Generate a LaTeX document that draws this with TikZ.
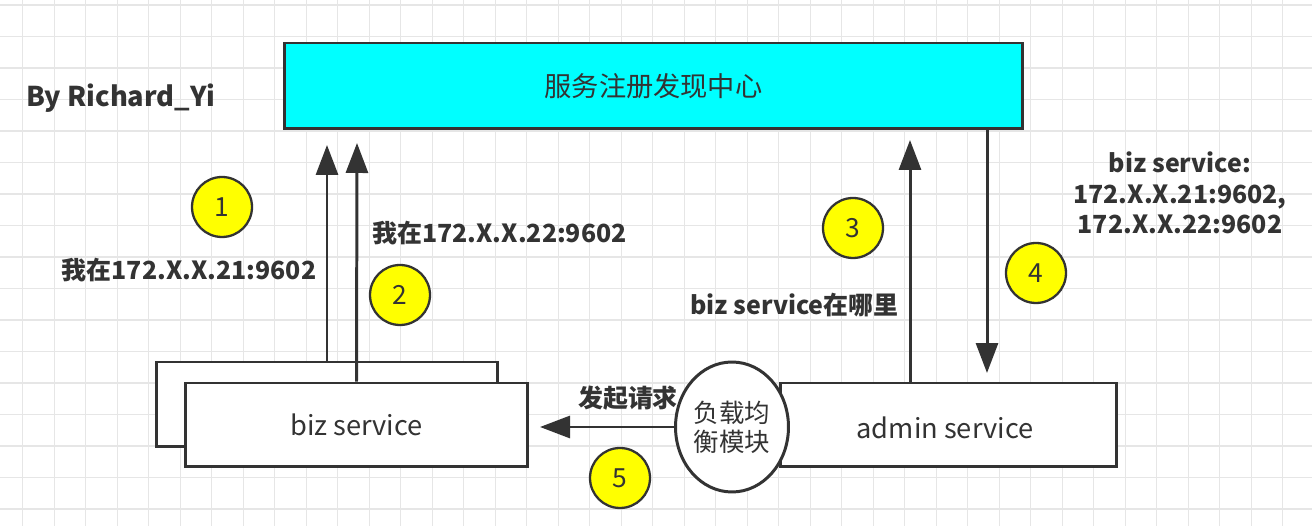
\documentclass[tikz,border=0pt]{standalone}
\usepackage{fontspec}
\setmainfont{Noto Sans CJK SC}
\usetikzlibrary{arrows.meta,shapes.geometric}
\definecolor{ink}{HTML}{333333}
\definecolor{gridgray}{HTML}{E6E6E6}
\definecolor{regcyan}{HTML}{00FFFF}
\definecolor{marker}{HTML}{FFFF00}
\begin{document}
\begin{tikzpicture}[x=0.02cm,y=-0.02cm]
        % Define styles for nodes and edges
        \tikzstyle{box}=[rectangle, draw=ink, line width=1.7pt, fill=white, text=ink, font=\fontsize{15.5}{17}\selectfont]
        \tikzstyle{registry}=[box, fill=regcyan, minimum width=14.78cm, minimum height=1.72cm]
        \tikzstyle{service}=[box, minimum width=6.84cm, minimum height=1.68cm]
        \tikzstyle{step marker}=[circle, draw=ink, line width=1.3pt, fill=marker, text=ink, minimum size=1.2cm, inner sep=0pt, font=\fontsize{15}{17}\selectfont]
        \tikzstyle{note}=[text=ink, font=\fontsize{14.2}{17.3}\selectfont\bfseries, align=center, inner sep=0pt]
        \tikzstyle{arrow}=[draw=ink, line width=1.7pt, -{Triangle[length=0.6cm,width=0.44cm]}]

        % Background grid
        \useasboundingbox (0,0) rectangle (1312,526);
        \fill[white] (0,0) rectangle (1312,526);
        \foreach \i in {0,...,41} \draw[gridgray, line width=0.6pt] ({22.7+31.5*\i},0) -- ({22.7+31.5*\i},526);
        \foreach \j in {0,...,16} \draw[gridgray, line width=0.6pt] (0,{5+31.5*\j}) -- (1312,{5+31.5*\j});

        % Define vertices
        \node[registry] (reg) at (653.5,86) {服务注册发现中心};
        \node[service, minimum height=1.7cm] (bizback) at (327,404.5) {};
        \node[service, minimum width=6.86cm] (biz) at (356.5,425) {biz service};
        \node[service, minimum width=6.74cm] (admin) at (948.5,425) {};
        \node[text=ink, font=\fontsize{15.5}{17}\selectfont] (admintext) at (945,428) {admin service};
        \node[ellipse, draw=ink, line width=1.7pt, fill=white, text=ink, minimum width=2.26cm, minimum height=2.6cm, inner sep=0pt, align=center, font=\fontsize{14.5}{16.5}\selectfont] (lb) at (732,427) {负载均\\衡模块};

        \node[note, anchor=west, font=\fontsize{15.5}{17}\selectfont\bfseries] (author) at (26,98) {By Richard\_Yi};
        \node[note] (say1) at (189,270) {我在172.X.X.21:9602};
        \node[note] (say2) at (499.5,233) {我在172.X.X.22:9602};
        \node[note] (ask) at (794.5,305) {biz service在哪里};
        \node[note] (reply) at (1180,193) {biz service:\\172.X.X.21:9602,\\172.X.X.22:9602};
        \node[note] (call) at (628,398) {发起请求};

        \node[step marker] (s1) at (222,207) {1};
        \node[step marker] (s2) at (400,295) {2};
        \node[step marker] (s3) at (853,228) {3};
        \node[step marker] (s4) at (1036,273) {4};
        \node[step marker] (s5) at (620,478) {5};

        % Free ends of the connectors
        \coordinate (up1) at (327,145);
        \coordinate (up2) at (357,143);
        \coordinate (a3) at (910,383);
        \coordinate (up3) at (910,140);
        \coordinate (r4) at (987,129);
        \coordinate (down4) at (987,373);
        \coordinate (left5) at (540,427);

        % Draw edges
        \draw[arrow] (bizback.north) -- (up1);
        \draw[arrow] (biz.north) -- (up2);
        \draw[arrow] (a3) -- (up3);
        \draw[arrow] (r4) -- (down4);
        \draw[arrow] (lb.west) -- (left5);

      \end{tikzpicture}
\end{document}
